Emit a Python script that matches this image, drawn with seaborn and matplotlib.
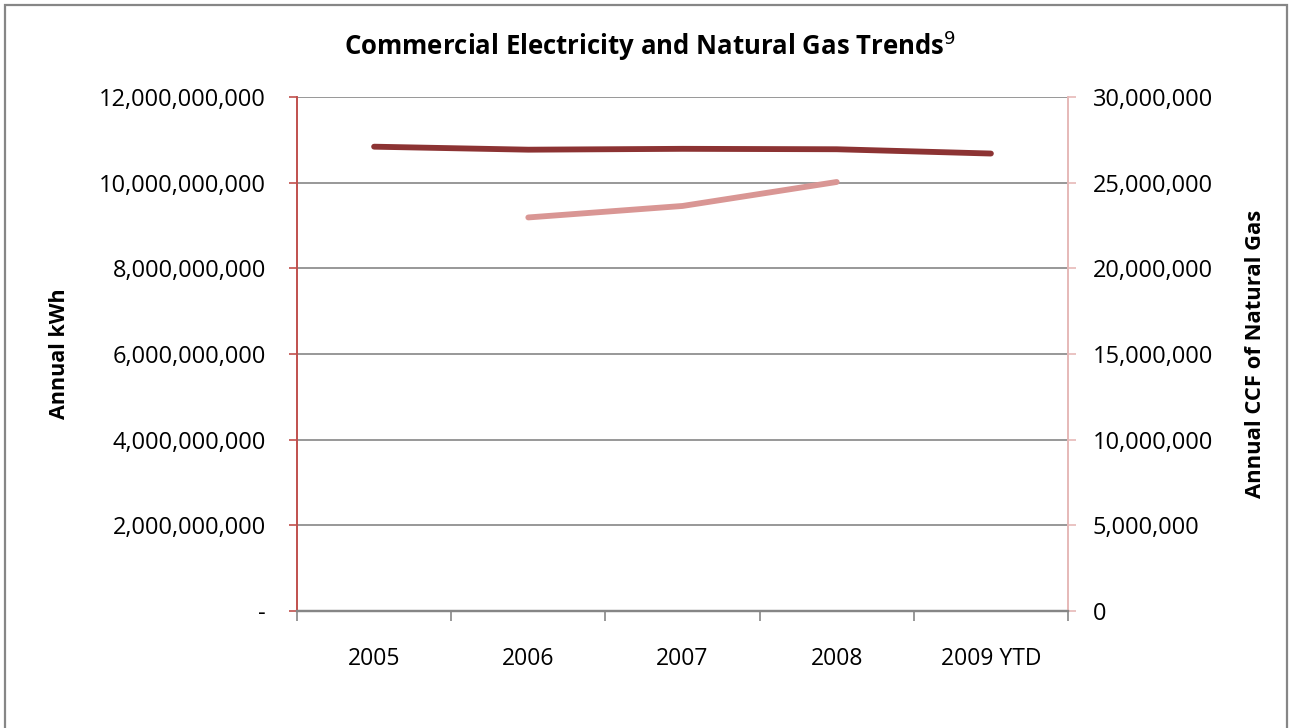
import matplotlib
matplotlib.use("Agg")
import matplotlib.pyplot as plt
from matplotlib.patches import Rectangle
from matplotlib.ticker import FixedLocator, FuncFormatter
import numpy as np
import pandas as pd
import seaborn as sns

years = ["2005", "2006", "2007", "2008", "2009 YTD"]
electricity_kwh = [10.84e9, 10.77e9, 10.79e9, 10.78e9, 10.68e9]
gas_ccf = [np.nan, 22.97e6, 23.64e6, 25.04e6, np.nan]

kwh_ticks = [0, 2e9, 4e9, 6e9, 8e9, 10e9, 12e9]
ccf_ticks = [0, 5e6, 10e6, 15e6, 20e6, 25e6, 30e6]

sns.set_theme(style="white")
plt.rcParams["font.family"] = ["Open Sans", "DejaVu Sans"]
plt.rcParams["text.color"] = "black"
plt.rcParams["axes.labelcolor"] = "black"

ELEC_COLOR = "#8C3333"
GAS_COLOR = "#D99694"
LEFT_SPINE = "#C0504D"
RIGHT_SPINE = "#E6B9B8"
GRID = "#868686"

df = pd.DataFrame({
    "pos": np.arange(len(years)),
    "year": years,
    "kwh": electricity_kwh,
    "ccf": gas_ccf,
})

fig = plt.figure(figsize=(12.93, 7.28), dpi=100)
ax = fig.add_axes([297 / 1293, 1 - 611 / 728, (1068 - 297) / 1293, (611 - 97) / 728])
ax2 = ax.twinx()

# outer chart frame
fig.patches.append(Rectangle((5 / 1293, -0.05), (1287 - 5) / 1293, 1.05 - 5 / 728,
                             transform=fig.transFigure, fill=False,
                             edgecolor=GRID, linewidth=1.6, zorder=0))

ax.set_xlim(-0.5, len(years) - 0.5)
ax.set_ylim(0, 12e9)
ax2.set_ylim(0, 30e6)

for y in kwh_ticks[1:]:
    ax.axhline(y, color=GRID, linewidth=1.2, zorder=0)

sns.lineplot(data=df, x="pos", y="kwh", ax=ax, color=ELEC_COLOR,
             linewidth=4.2, solid_capstyle="round", zorder=3)
sns.lineplot(data=df.dropna(), x="pos", y="ccf", ax=ax2, color=GAS_COLOR,
             linewidth=4.2, solid_capstyle="round", zorder=3)

ax.set_xlabel("")
ax.set_ylabel("Annual kWh", fontsize=15.5, fontweight="bold", labelpad=21)
ax2.set_ylabel("Annual CCF of Natural Gas", fontsize=15.8, fontweight="bold", labelpad=23)

# x axis: category labels centred, ticks on the boundaries
ax.xaxis.set_major_locator(FixedLocator(np.arange(len(years))))
ax.xaxis.set_minor_locator(FixedLocator(np.arange(-0.5, len(years), 1.0)))
ax.set_xticklabels(years, fontsize=16.5, family=["Liberation Sans Narrow", "Open Sans", "DejaVu Sans"])
ax.tick_params(axis="x", which="major", length=0, pad=26, labelcolor="black")
ax.tick_params(axis="x", which="minor", length=7, width=1.2, color=GRID, direction="out", bottom=True)

ax.yaxis.set_major_locator(FixedLocator(kwh_ticks))
ax.yaxis.set_major_formatter(FuncFormatter(lambda v, p: "-" if v == 0 else f"{v:,.0f}"))
ax.tick_params(axis="y", length=6, width=1.2, color=LEFT_SPINE, direction="out",
               labelsize=17, pad=16.5, left=True, labelcolor="black")

ax2.yaxis.set_major_locator(FixedLocator(ccf_ticks))
ax2.yaxis.set_major_formatter(FuncFormatter(lambda v, p: f"{v:,.0f}"))
ax2.tick_params(axis="y", length=6, width=1.2, color=RIGHT_SPINE, direction="out",
                labelsize=17, pad=12, right=True, labelcolor="black")

for a in (ax, ax2):
    a.spines["top"].set_visible(False)
    a.spines["bottom"].set_color(GRID)
    a.spines["bottom"].set_linewidth(1.6)
    a.spines["left"].set_color(LEFT_SPINE)
    a.spines["left"].set_linewidth(1.2)
    a.spines["right"].set_color(RIGHT_SPINE)
    a.spines["right"].set_linewidth(1.2)
    a.grid(False)

fig.text(0.503, 0.937, r"Commercial Electricity and Natural Gas Trends$^{9}$",
         ha="center", va="center", fontsize=18.5, fontweight="bold", color="black")

fig.savefig("out.png", dpi=100, facecolor="white")
